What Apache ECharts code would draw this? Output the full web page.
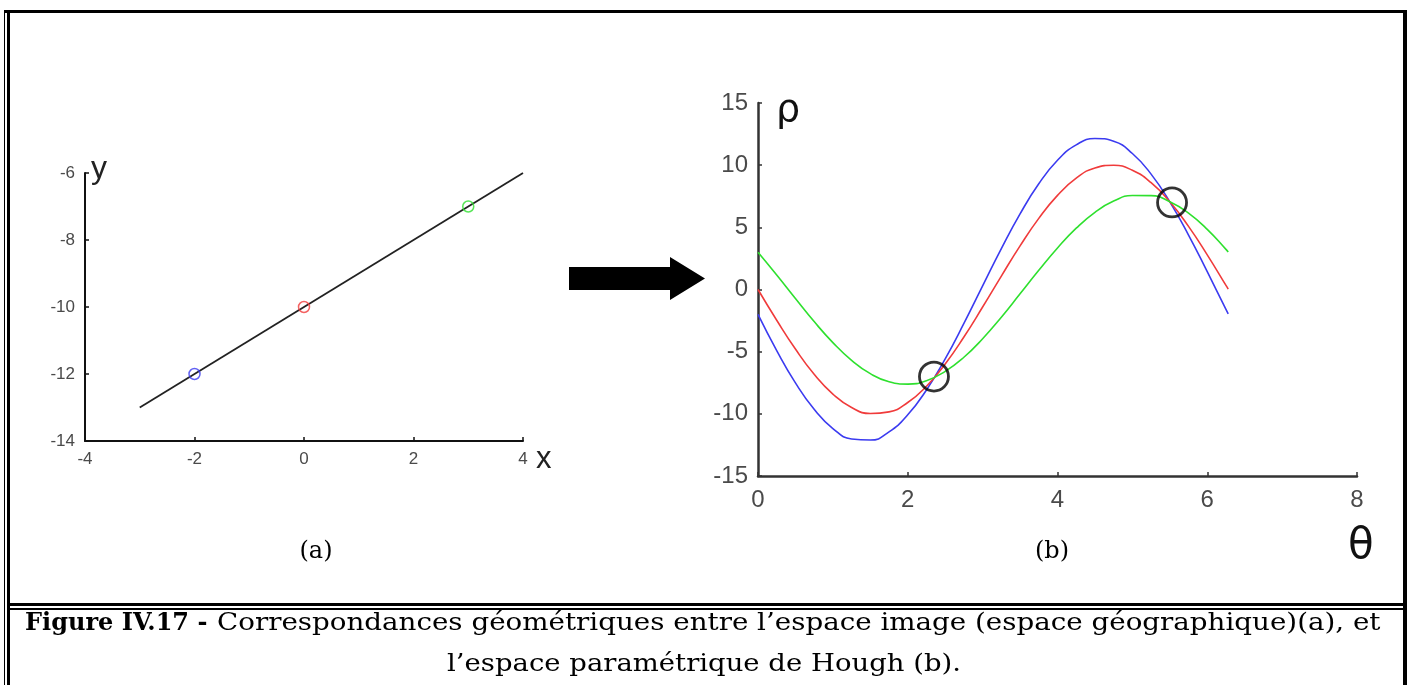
<!DOCTYPE html>
<html>
<head>
<meta charset="utf-8">
<script src="https://cdn.jsdelivr.net/npm/echarts@6/dist/echarts.min.js"></script>
<style>
  html, body { margin: 0; padding: 0; background: #fff; }
  #chart { width: 1410px; height: 685px; }
</style>
</head>
<body>
<div id="chart"></div>
<script>
// (a) image space: a straight line and three of its points
const lineX = [-3, 4];
const lineY = [-13, -6];
const pointX = [-2, 0, 3];
const pointY = [-12, -10, -7];
const pointColors = ['#3b3bf0', '#f03b3b', '#2ee02e'];

// (b) Hough parameter space: one sinusoid per point
const thetaValues = [0, 0.25, 0.5, 0.75, 1.0, 1.25, 1.5, 1.75, 2.0, 2.25, 2.5, 2.75, 3.0, 3.25,
  3.5, 3.75, 4.0, 4.25, 4.5, 4.75, 5.0, 5.25, 5.5, 5.75, 6.0, 6.25, 6.28];
const rhoBlue = [-2.0, -4.91, -7.51, -9.64, -11.18, -12.02, -12.11, -11.45, -10.08, -8.08, -5.58, -2.73,
  0.29, 3.29, 6.08, 8.5, 10.39, 11.63, 12.15, 11.92, 10.94, 9.28, 7.05, 4.38, 1.43, -1.6, -1.96];
const rhoRed = [0, -2.47, -4.79, -6.82, -8.41, -9.49, -9.97, -9.84, -9.09, -7.78, -5.99, -3.82,
  -1.41, 1.08, 3.51, 5.72, 7.57, 8.95, 9.78, 9.99, 9.59, 8.59, 7.06, 5.08, 2.79, 0.33, 0.03];
const rhoGreen = [3.0, 1.17, -0.72, -2.58, -4.27, -5.7, -6.77, -7.42, -7.61, -7.33, -6.59, -5.45,
  -3.96, -2.23, -0.35, 1.54, 3.34, 4.93, 6.21, 7.11, 7.56, 7.55, 7.06, 6.14, 4.84, 3.23, 3.02];
const crossTheta = [2.35, 5.53];
const crossRho = [-7.0, 7.0];

// tick labels
const xTicksA = [-4, -2, 0, 2, 4];
const yTicksA = [-14, -12, -10, -8, -6];
const xTicksB = [0, 2, 4, 6, 8];
const yTicksB = [-15, -10, -5, 0, 5, 10, 15];

const captionBold = 'Figure IV.17 -';
const captionLine1 = 'Correspondances géométriques entre l’espace image (espace géographique)(a), et';
const captionLine2 = 'l’espace paramétrique de Hough (b).';

const chart = echarts.init(document.getElementById('chart'), null, { renderer: 'canvas' });

function axisBase(ticks, fontSize, lineWidth, lineColor) {
  return {
    type: 'value',
    min: ticks[0],
    max: ticks[ticks.length - 1],
    interval: ticks[1] - ticks[0],
    splitLine: { show: false },
    axisLine: { show: true, onZero: false, lineStyle: { color: lineColor, width: lineWidth } },
    axisTick: { show: true, inside: true, length: 4, lineStyle: { color: lineColor, width: 1.5 } },
    axisLabel: {
      showMinLabel: true, showMaxLabel: true,
      color: '#4a4a4a', fontFamily: 'Liberation Sans, Arial, sans-serif', fontSize: fontSize
    }
  };
}

const xA = axisBase(xTicksA, 17, 2, '#111');
xA.gridIndex = 0; xA.axisLabel.margin = 10;
const yA = axisBase(yTicksA, 17, 2, '#111');
yA.gridIndex = 0; yA.axisLabel.margin = 10;
const xB = axisBase(xTicksB, 24, 2.5, '#333');
xB.gridIndex = 1; xB.axisLabel.margin = 12;
const yB = axisBase(yTicksB, 24, 2.5, '#333');
yB.gridIndex = 1; yB.axisLabel.margin = 10;

function curve(name, values, color) {
  return {
    name: name, type: 'line', xAxisIndex: 1, yAxisIndex: 1,
    data: thetaValues.map((t, i) => [t, values[i]]),
    smooth: true, showSymbol: false, silent: true,
    lineStyle: { color: color, width: 1.6 }
  };
}

function bar(x, y, w, h) {
  return { type: 'rect', silent: true, shape: { x: x, y: y, width: w, height: h }, style: { fill: '#000' } };
}

const serif = '"DejaVu Serif", serif';

const option = {
  animation: false,
  backgroundColor: '#fff',
  grid: [
    { left: 85, top: 173, right: 887, bottom: 244 },
    { left: 758, top: 103, right: 53, bottom: 209 }
  ],
  xAxis: [xA, xB],
  yAxis: [yA, yB],
  series: [
    {
      name: 'line', type: 'line', xAxisIndex: 0, yAxisIndex: 0,
      data: lineX.map((x, i) => [x, lineY[i]]),
      showSymbol: false, silent: true,
      lineStyle: { color: '#222', width: 1.8 }
    },
    {
      name: 'points', type: 'scatter', xAxisIndex: 0, yAxisIndex: 0,
      data: pointX.map((x, i) => ({
        value: [x, pointY[i]],
        itemStyle: { color: 'rgba(0,0,0,0)', borderColor: pointColors[i], borderWidth: 1.5 }
      })),
      symbol: 'circle', symbolSize: 11, silent: true, z: 5
    },
    curve('blue', rhoBlue, pointColors[0]),
    curve('red', rhoRed, pointColors[1]),
    curve('green', rhoGreen, pointColors[2]),
    {
      name: 'intersections', type: 'scatter', xAxisIndex: 1, yAxisIndex: 1,
      data: crossTheta.map((t, i) => [t, crossRho[i]]),
      symbol: 'circle', symbolSize: 29, silent: true, z: 5,
      itemStyle: { color: 'rgba(0,0,0,0)', borderColor: '#000', borderWidth: 2.8 }
    }
  ],
  graphic: [
    // frame
    bar(4, 10, 1403, 3),
    bar(4, 10, 1, 675),
    bar(7, 10, 3, 675),
    bar(1403, 10, 4, 675),
    bar(7, 603, 1398, 3),
    bar(7, 608, 1398, 2),
    // arrow between the panels
    {
      type: 'polygon', silent: true,
      shape: { points: [[569, 267], [670, 267], [670, 257], [705, 278.5], [670, 300], [670, 290], [569, 290]] },
      style: { fill: '#000' }
    },
    // axis names
    { type: 'text', x: 91, y: 153, silent: true, style: { text: 'y', font: '32px "Liberation Sans", Arial, sans-serif', fill: '#222' } },
    { type: 'text', x: 536, y: 444, silent: true, style: { text: 'x', font: '31px "Liberation Sans", Arial, sans-serif', fill: '#222' } },
    { type: 'text', x: 776, y: 92, silent: true, style: { text: 'ρ', font: '38px "DejaVu Sans", sans-serif', fill: '#111' } },
    { type: 'text', x: 1348, y: 526, silent: true, style: { text: 'θ', font: '42px "DejaVu Sans", sans-serif', fill: '#111' } },
    // panel labels
    { type: 'text', x: 316, y: 552, silent: true, style: { text: '(a)', font: '24px ' + serif, fill: '#000', align: 'center', verticalAlign: 'middle' } },
    { type: 'text', x: 1052, y: 552, silent: true, style: { text: '(b)', font: '24px ' + serif, fill: '#000', align: 'center', verticalAlign: 'middle' } },
    // caption
    {
      type: 'text', x: 25, y: 624, silent: true,
      style: { text: captionBold, font: 'bold 24px ' + serif, fill: '#000', align: 'left', verticalAlign: 'middle' }
    },
    {
      type: 'text', x: 217, y: 624, scaleX: 1.155, silent: true,
      style: { text: captionLine1, font: '24px ' + serif, fill: '#000', align: 'left', verticalAlign: 'middle' }
    },
    {
      type: 'text', x: 704, y: 665, scaleX: 1.145, silent: true,
      style: { text: captionLine2, font: '24px ' + serif, fill: '#000', align: 'center', verticalAlign: 'middle' }
    }
  ]
};

chart.setOption(option);
</script>
</body>
</html>
